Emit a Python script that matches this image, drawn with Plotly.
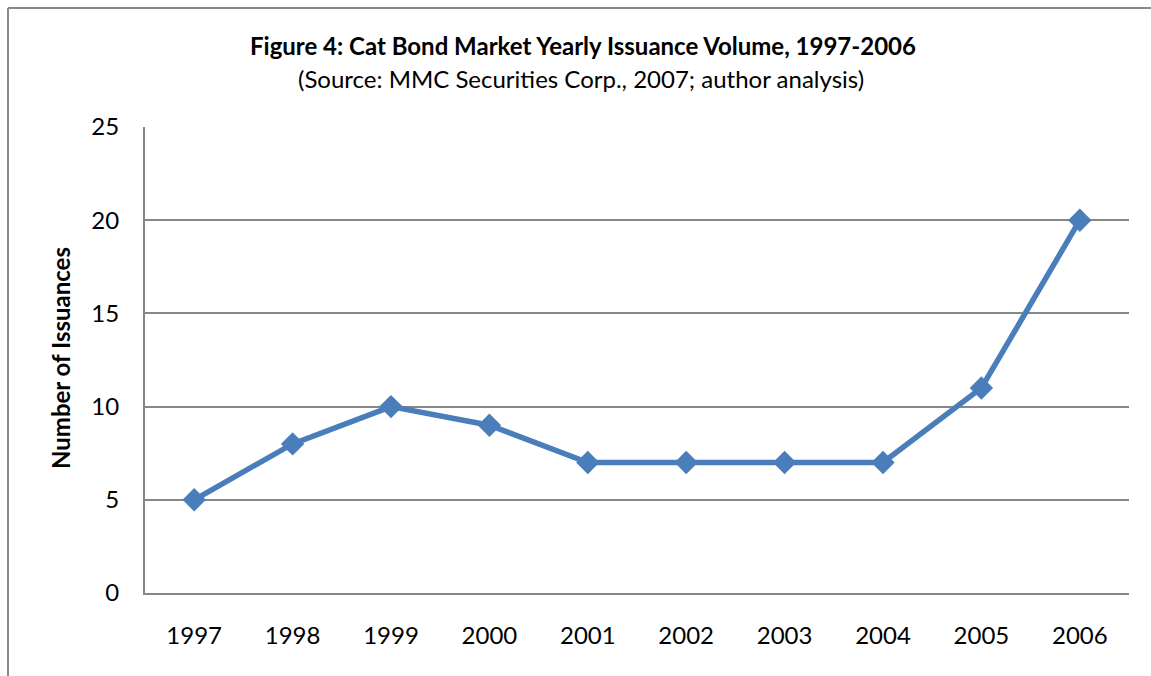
import plotly.graph_objects as go

years = ["1997", "1998", "1999", "2000", "2001", "2002", "2003", "2004", "2005", "2006"]
issuances = [5, 8, 10, 9, 7, 7, 7, 7, 11, 20]
y_ticks = [0, 5, 10, 15, 20, 25]

title_text = "<b>Figure 4: Cat Bond Market Yearly Issuance Volume, 1997-2006</b>"
subtitle_text = "(Source: MMC Securities Corp., 2007; author analysis)"
y_title = "<b>Number of Issuances</b>"

W, H = 1151, 676
L, R, T, B = 145, 22, 127, 83
pw, ph = W - L - R, H - T - B

def px_x(x):
    return (x - L) / pw

def px_y(y):
    return (H - B - y) / ph

FONT = "Lato"
GRID = "#878787"

fig = go.Figure()
fig.add_trace(go.Scatter(
    x=years, y=issuances, mode="lines+markers",
    line=dict(color="#4A7EBB", width=5.5),
    marker=dict(symbol="diamond", size=18, color="#4A7EBB"),
    showlegend=False, hoverinfo="x+y",
))

fig.update_layout(
    width=W, height=H,
    margin=dict(l=L, r=R, t=T, b=B),
    paper_bgcolor="white", plot_bgcolor="white",
    font=dict(family=FONT, size=24, color="black"),
    xaxis=dict(
        type="category", range=[-0.5, 9.5], showgrid=False,
        showline=True, linecolor=GRID, linewidth=2, ticks="",
        tickfont=dict(size=24), ticklabelstandoff=20,
        fixedrange=True,
    ),
    yaxis=dict(
        range=[0, 25], tickvals=y_ticks, showgrid=True, gridcolor=GRID, gridwidth=1.5,
        showline=True, linecolor=GRID, linewidth=2, ticks="", zeroline=False,
        tickfont=dict(size=24), ticklabelstandoff=19,
        fixedrange=True,
    ),
    annotations=[
        dict(text=title_text, x=px_x(583), y=px_y(46), xref="paper", yref="paper",
             showarrow=False, font=dict(size=24), xanchor="center", yanchor="middle"),
        dict(text=subtitle_text, x=px_x(581), y=px_y(78), xref="paper", yref="paper",
             showarrow=False, font=dict(size=24), xanchor="center", yanchor="middle"),
        dict(text=y_title, x=px_x(60), y=px_y(358), xref="paper", yref="paper",
             showarrow=False, textangle=-90, font=dict(size=24),
             xanchor="center", yanchor="middle"),
    ],
    shapes=[
        dict(type="line", xref="paper", yref="paper",
             x0=px_x(8), x1=px_x(8), y0=px_y(8), y1=px_y(700),
             line=dict(color="#888888", width=2)),
        dict(type="line", xref="paper", yref="paper",
             x0=px_x(8), x1=px_x(1200), y0=px_y(8), y1=px_y(8),
             line=dict(color="#888888", width=2)),
    ],
)

fig.write_html("out.html", config={"displayModeBar": False},
               post_script="document.body.style.margin='0';")
